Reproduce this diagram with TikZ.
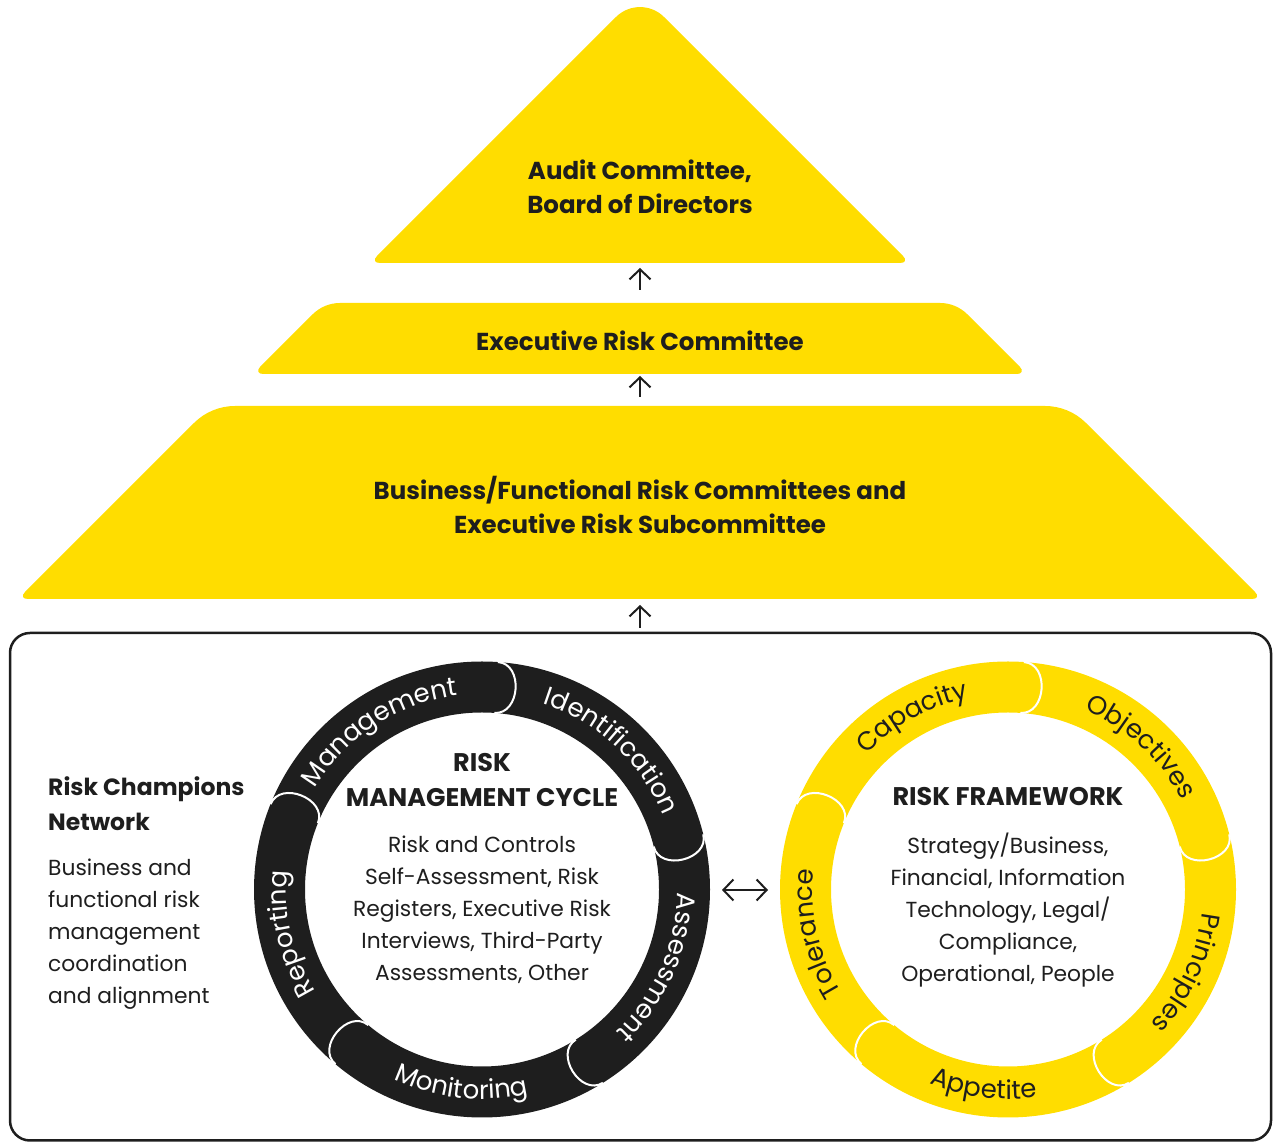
\documentclass[tikz,border=0pt]{standalone}
\usepackage{fontspec}
\setmainfont{Poppins}
\usetikzlibrary{arrows.meta,decorations.text,calc}
\definecolor{eyyellow}{HTML}{FFDD00}
\definecolor{ink}{HTML}{1E1E1E}
\newcommand\tierfont{\fontsize{24.5}{34}\selectfont\bfseries}
\newcommand\headfont{\fontsize{25.5}{35}\selectfont\bfseries}
\newcommand\sideheadfont{\fontsize{23.5}{35}\selectfont\bfseries}
\newcommand\bodyfont{\fontsize{21.8}{32}\selectfont}
\newcommand\lblfont{\fontsize{26}{30}\selectfont}
\tikzset{
  tier/.style={fill=eyyellow},
  tiertext/.style={text=ink, align=center, font=\tierfont, inner sep=0pt},
  headtext/.style={text=ink, align=center, font=\headfont, inner sep=0pt},
  bodytext/.style={text=ink, align=center, font=\bodyfont, inner sep=0pt},
  uparrow/.style={draw=ink, line width=2pt, -{Straight Barb[length=10pt,width=21pt]}},
  capline/.style={draw=white, line width=2pt},
}
\begin{document}
\begin{tikzpicture}[x=1pt,y=1pt]
\useasboundingbox (0,0) rectangle (1276,1142);

% ---------- pyramid ----------
\fill[tier] (380,879) -- (900,879) .. controls (905.5,879) and (906.82,882.18) .. (902.93,886.07)
  -- (664.04,1124.96) .. controls (650.77,1138.23) and (629.23,1138.23) .. (615.96,1124.96)
  -- (377.07,886.07) .. controls (373.18,882.18) and (374.5,879) .. (380,879) -- cycle;
\fill[tier] (263,768) -- (1017,768) .. controls (1021.5,768) and (1023.82,771.18) .. (1019.93,775.07)
  -- (967.31,827.69) .. controls (960.07,834.93) and (950.24,839) .. (940,839)
  -- (340,839) .. controls (329.76,839) and (319.93,834.93) .. (312.69,827.69)
  -- (260.07,775.07) .. controls (256.18,771.18) and (258.5,768) .. (263,768) -- cycle;
\fill[tier] (28,543) -- (1252,543) .. controls (1257.5,543) and (1258.82,546.18) .. (1254.93,550.07)
  -- (1085.97,719.03) .. controls (1075.11,729.89) and (1060.36,736) .. (1045,736)
  -- (235,736) .. controls (219.64,736) and (204.89,729.89) .. (194.03,719.03)
  -- (25.07,550.07) .. controls (21.18,546.18) and (22.5,543) .. (28,543) -- cycle;

\node[tiertext] (audit) at (640,955) {Audit Committee,\\Board of Directors};
\node[tiertext] (erc) at (640,801) {Executive Risk Committee};
\node[tiertext] (brc) at (640,637) {Business/Functional Risk Committees and\\Executive Risk Subcommittee};

\coordinate (a1s) at (640,852); \coordinate (a1e) at (640,874);
\coordinate (a2s) at (640,745); \coordinate (a2e) at (640,766);
\coordinate (a3s) at (640,514); \coordinate (a3e) at (640,537);
\draw[uparrow] (a1s) -- (a1e);
\draw[uparrow] (a2s) -- (a2e);
\draw[uparrow] (a3s) -- (a3e);

% ---------- bottom panel ----------
\draw[draw=ink, line width=2.5pt, rounded corners=20pt] (10,1.5) rectangle (1271,509);

\node[text=ink, align=left, anchor=west, inner sep=0pt, font=\sideheadfont] (rcn) at (48,338.5) {Risk Champions\\Network};
\node[text=ink, align=left, anchor=west, inner sep=0pt, font=\bodyfont] (rcnbody) at (48,208) {Business and\\functional risk\\management\\coordination\\and alignment};

% ---------- rings ----------
\coordinate (C1) at (482,252.5);
\coordinate (C2) at (1008,252.5);
\fill[ink, even odd rule] (C1) circle[radius=228] (C1) circle[radius=177];
\fill[eyyellow, even odd rule] (C2) circle[radius=228] (C2) circle[radius=177];
\foreach \c in {C1,C2}{
  \foreach \t in {86,14,-58,-130,158}{
    \draw[capline] ($(\c)+(\t:228)$) .. controls ($(\c)+(\t:228)+(\t-90:26)$) and ($(\c)+(\t:177)+(\t-90:26)$) .. ($(\c)+(\t:177)$);
  }
}
% clockwise labels (tops outward)
\foreach \a/\txt in {123/Management,47/Identification,-24/Assessment,193/Reporting}{
  \path[decorate, decoration={text along path, text align=center, text color=white, text={|\lblfont|\txt}}]
    ($(C1)+(\a+70:195.5)$) arc[start angle=\a+70, end angle=\a-70, radius=195.5];
}
\foreach \a/\txt in {119/Capacity,47/Objectives,-25/Principles,193/Tolerance}{
  \path[decorate, decoration={text along path, text align=center, text color=ink, text={|\lblfont|\txt}}]
    ($(C2)+(\a+70:195.5)$) arc[start angle=\a+70, end angle=\a-70, radius=195.5];
}
% counter-clockwise labels (tops inward)
\path[decorate, decoration={text along path, text align=center, text color=white, text={|\lblfont|Monitoring}}]
  ($(C1)+(-166:209.5)$) arc[start angle=-166, end angle=-26, radius=209.5];
\path[decorate, decoration={text along path, text align=center, text color=ink, text={|\lblfont|Appetite}}]
  ($(C2)+(-167:209.5)$) arc[start angle=-167, end angle=-27, radius=209.5];

\node[headtext] (rmch) at (482,362.5) {RISK\\MANAGEMENT CYCLE};
\node[bodytext] (rmcb) at (482,232) {Risk and Controls\\Self-Assessment, Risk\\Registers, Executive Risk\\Interviews, Third-Party\\Assessments, Other};
\node[headtext] (rfh) at (1008,345) {RISK FRAMEWORK};
\node[bodytext] (rfb) at (1008,232) {Strategy/Business,\\Financial, Information\\Technology, Legal/\\Compliance,\\Operational, People};

\coordinate (dl) at (722,252);
\coordinate (dr) at (768,252);
\draw[draw=ink, line width=2pt, {Straight Barb[length=10pt,width=21pt]}-{Straight Barb[length=10pt,width=21pt]}] (dl) -- (dr);
\end{tikzpicture}
\end{document}
